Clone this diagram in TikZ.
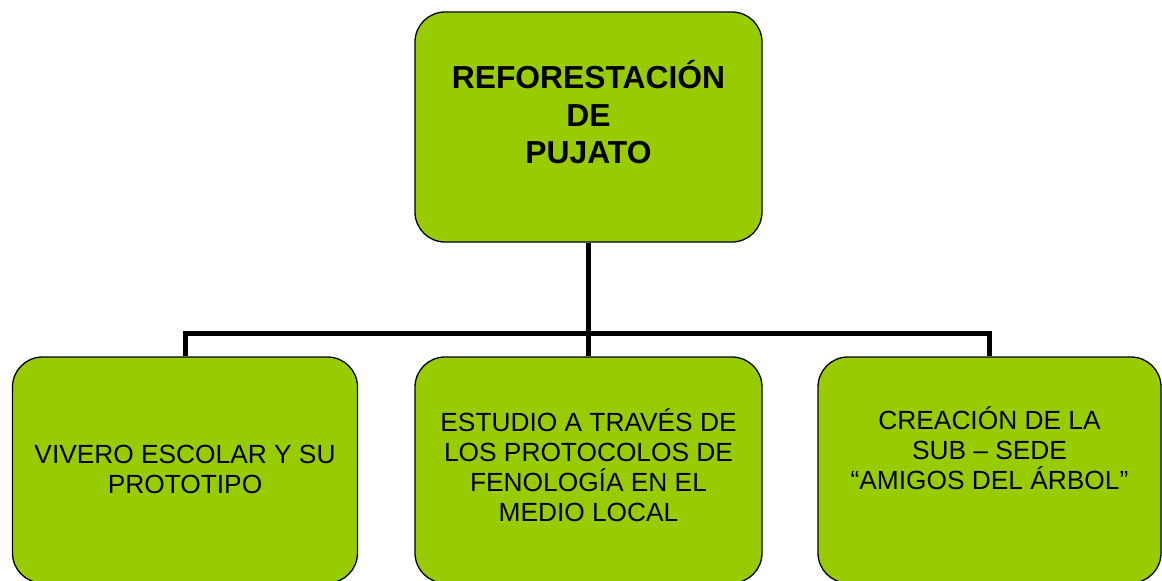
\documentclass[tikz,border=0pt]{standalone}
\usepackage{fontspec}
\setmainfont{Liberation Sans}
\definecolor{boxgreen}{HTML}{99CC00}
\begin{document}
\begin{tikzpicture}[x=1pt,y=-1pt,
  box/.style={draw=black,line width=1.3pt,fill=boxgreen,rounded corners=30pt,inner sep=0pt},
  conn/.style={draw=black,line width=5pt},
  bigtxt/.style={align=center,font=\fontsize{31.8}{37.5}\selectfont\bfseries,inner sep=0pt},
  smalltxt/.style={align=center,font=\fontsize{26.3}{30}\selectfont,inner sep=0pt}]
\useasboundingbox (0,0) rectangle (1162,581);
\begin{scope}
\clip (0,0) rectangle (1162,581);
% connectors
\coordinate (j) at (588.5,333);
\node[box,minimum width=347pt,minimum height=230pt,draw=none,fill=none] (top) at (588.5,127) {};
\node[box,minimum width=345pt,minimum height=226pt,draw=none,fill=none] (left) at (185,470) {};
\node[box,minimum width=347pt,minimum height=226pt,draw=none,fill=none] (mid) at (588.5,470) {};
\node[box,minimum width=343pt,minimum height=226pt,draw=none,fill=none] (right) at (989.5,470) {};
\draw[conn] (top.south) -- (mid.north);
\draw[conn] (left.north) |- (j) -| (right.north);
% boxes
\node[box,minimum width=347pt,minimum height=230pt] at (top) {};
\node[box,minimum width=345pt,minimum height=226pt] at (left) {};
\node[box,minimum width=347pt,minimum height=226pt] at (mid) {};
\node[box,minimum width=343pt,minimum height=226pt] at (right) {};
\end{scope}
% texts
\node[bigtxt] (ttop) at (588.5,112.5) {REFORESTACIÓN\\DE\\PUJATO};
\node[smalltxt] (tleft) at (185,469.5) {VIVERO ESCOLAR Y SU\\PROTOTIPO};
\node[smalltxt] (tmid) at (588.5,465) {ESTUDIO A TRAVÉS DE\\LOS PROTOCOLOS DE\\FENOLOGÍA EN EL\\MEDIO LOCAL};
\node[smalltxt] (tright) at (989.5,448) {CREACIÓN DE LA\\SUB – SEDE\\“AMIGOS DEL ÁRBOL”};
\end{tikzpicture}
\end{document}
